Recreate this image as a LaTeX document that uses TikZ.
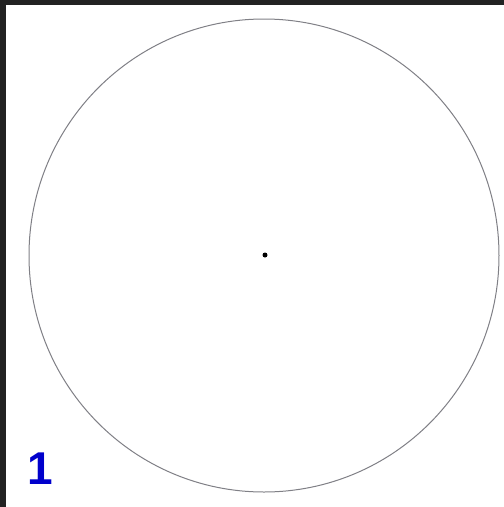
\documentclass[tikz,border=0pt]{standalone}
\usepackage{fontspec}
\newfontfamily\labelfont{Liberation Sans}
\definecolor{frame}{HTML}{222222}
\definecolor{ringgray}{HTML}{808086}
\definecolor{labelblue}{HTML}{0000CC}
\begin{document}
\begin{tikzpicture}[x=1pt,y=-1pt,
  ring/.style={draw=ringgray,line width=1pt},
  centerdot/.style={circle,fill=black,inner sep=0pt,minimum size=5pt},
  numlabel/.style={text=labelblue,font=\labelfont\bfseries\fontsize{46}{46}\selectfont,inner sep=0pt,anchor=base west}]
\useasboundingbox (0,0) rectangle (504,507);
\fill[white] (0,0) rectangle (504,507);
\fill[frame] (0,0) rectangle (504,5);
\fill[frame] (0,0) rectangle (6,507);
\draw[ring] (264,255.5) circle[x radius=235, y radius=236.5];
\node[centerdot] (c) at (265,255) {};
\node[numlabel] (n) at (27,484) {1};
\end{tikzpicture}
\end{document}
